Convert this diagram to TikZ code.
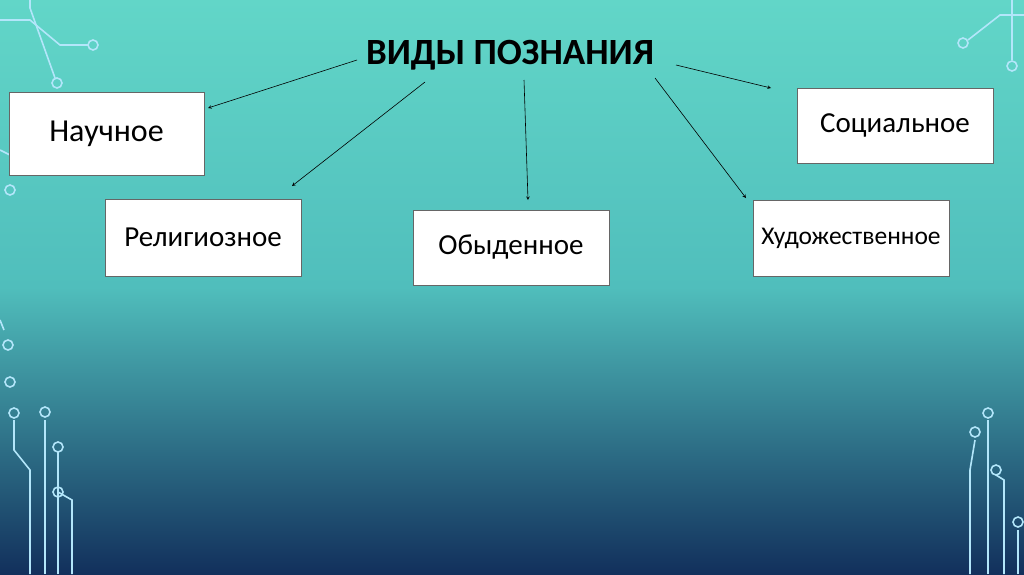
\documentclass[tikz,border=0pt]{standalone}
\usepackage{fontspec}
\setmainfont{Carlito}
\begin{document}
\begin{tikzpicture}[x=1pt,y=-1pt,
  box/.style={draw=black!60,line width=0.8pt,fill=white,minimum width=195pt,inner sep=0pt},
  arr/.style={-stealth,line width=0.6pt},
  circ/.style={draw=cyan!30!white,line width=1.6pt},
  dot/.style={circ,fill=none}]
\definecolor{topc}{RGB}{98,214,200}
\definecolor{midc}{RGB}{80,190,188}
\definecolor{botc}{RGB}{18,48,92}
\shade[top color=topc,bottom color=botc,middle color=midc] (0,0) rectangle (1024,574);
\useasboundingbox (0,0) rectangle (1024,574);
% circuit decorations
\draw[circ] (0,20) -- (30,20) -- (60,45) -- (88,45); \draw[dot] (93,45) circle (5);
\draw[circ] (30,0) -- (30,8) -- (55,78); \draw[dot] (57,83) circle (5);
\draw[circ] (0,150) -- (10,155); \draw[dot] (10,190) circle (5);
\draw[circ] (0,320) -- (4,330); \draw[dot] (8,345) circle (5);
\draw[dot] (10,382) circle (5);
\draw[circ] (45,574) -- (45,420); \draw[dot] (45,412) circle (5);
\draw[circ] (58,574) -- (58,452); \draw[dot] (58,447) circle (5);
\draw[circ] (30,574) -- (30,470) -- (14,450) -- (14,420); \draw[dot] (14,413) circle (5);
\draw[circ] (72,574) -- (72,500) -- (58,492); \draw[dot] (58,492) circle (5);
\draw[circ] (1024,15) -- (1000,15) -- (968,40); \draw[dot] (963,43) circle (5);
\draw[circ] (1012,0) -- (1012,60); \draw[dot] (1012,66) circle (5);
\draw[circ] (988,574) -- (988,420); \draw[dot] (988,413) circle (5);
\draw[circ] (1004,574) -- (1004,480) -- (996,475); \draw[dot] (996,470) circle (5);
\draw[circ] (970,574) -- (970,470) -- (975,440); \draw[dot] (975,432) circle (5);
\draw[circ] (1018,574) -- (1018,530); \draw[dot] (1018,522) circle (5);
% nodes
\node[font=\bfseries\fontsize{37}{42}\selectfont] (t) at (510,55) {ВИДЫ ПОЗНАНИЯ};
\node[box,minimum height=83pt,font=\fontsize{32}{36}\selectfont] (n) at (106.5,133.5) {Научное};
\node[box,minimum height=77pt,minimum width=196pt,font=\fontsize{29}{33}\selectfont] (r) at (203,237.5) {Религиозное};
\node[box,minimum height=75pt,minimum width=196pt,font=\fontsize{29}{33}\selectfont] (o) at (511,247.5) {Обыденное};
\node[box,minimum height=75pt,minimum width=196pt,font=\fontsize{29}{33}\selectfont] (s) at (895,125.5) {Социальное};
\node[box,minimum height=76pt,minimum width=196pt,font=\fontsize{25.5}{29}\selectfont] (h) at (851,238) {Художественное};
\coordinate (a1) at (357,60); \coordinate (b1) at (208,108);
\coordinate (a2) at (425,82); \coordinate (b2) at (292,186);
\coordinate (a3) at (524,80); \coordinate (b3) at (528,200);
\coordinate (a4) at (655,78); \coordinate (b4) at (746,198);
\coordinate (a5) at (676,65); \coordinate (b5) at (771,88);
\foreach \i in {1,...,5}{\draw[arr] (a\i) -- (b\i);}
\end{tikzpicture}
\end{document}
